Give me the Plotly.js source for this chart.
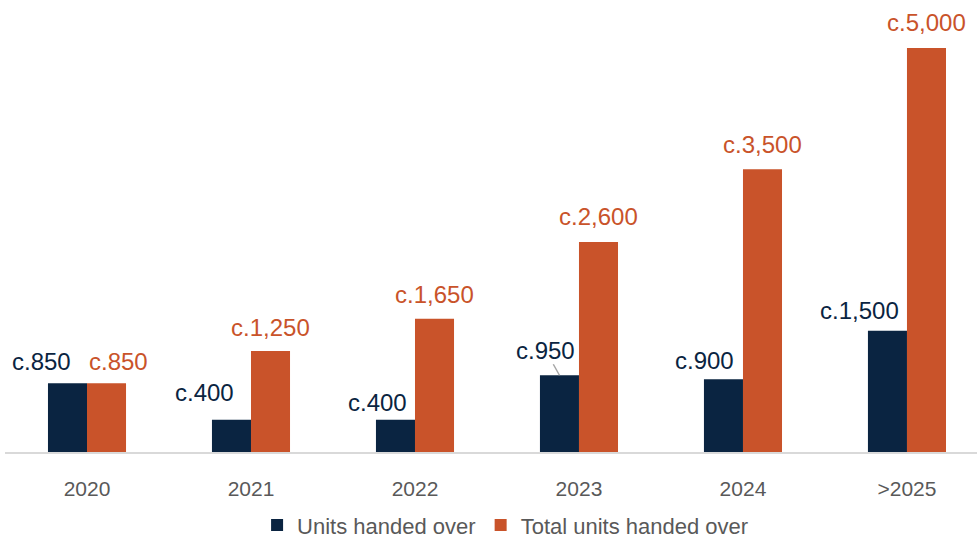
<!DOCTYPE html>
<html>
<head>
<meta charset="utf-8">
<script src="https://cdn.plot.ly/plotly-3.0.1.min.js"></script>
<style>html,body{margin:0;padding:0;background:#fff;}#chart{width:977px;height:548px;}</style>
</head>
<body>
<div id="chart"></div>
<script>
// ---- data ----
const categories = ["2020", "2021", "2022", "2023", "2024", ">2025"];
const unitsHandedOver = [850, 400, 400, 950, 900, 1500];
const totalUnitsHandedOver = [850, 1250, 1650, 2600, 3500, 5000];
const seriesNames = ["Units handed over", "Total units handed over"];

// ---- label nudges (pixels) ----
const navyShiftX = [-26, -27, -18, -14, -19, -28];
const navyShiftY = [22, 27, 17, 25, 19, 20];
const orangeShiftX = [12, 0, 0, 0, 0, 0];
const orangeShiftY = [22, 24, 24, 25, 25, 26];
const leaderLine = [false, false, false, true, false, false];

const NAVY = "#0a2441";
const ORANGE = "#c9532a";
const GRAY = "#595959";
const FONT = "'Liberation Sans', Arial, sans-serif";

const idx = categories.map((c, i) => i);
const bargap = 0.524;
const half = (1 - bargap) / 4; // half width of one bar, in axis units

function fmt(v) { return "c." + v.toLocaleString("en-US"); }

const traces = [
  { type: "bar", name: seriesNames[0], x: idx, y: unitsHandedOver,
    marker: { color: NAVY, line: { width: 0 } }, hoverinfo: "skip" },
  { type: "bar", name: seriesNames[1], x: idx, y: totalUnitsHandedOver,
    marker: { color: ORANGE, line: { width: 0 } }, hoverinfo: "skip" }
];

const annotations = [];
idx.forEach(i => {
  const v = unitsHandedOver[i];
  if (leaderLine[i]) {
    annotations.push({
      x: i - half, y: v, xref: "x", yref: "y", text: fmt(v),
      showarrow: true, arrowhead: 0, arrowwidth: 1.5, arrowcolor: "#a6a6a6",
      standoff: 0, ax: navyShiftX[i], ay: -navyShiftY[i], borderpad: 0,
      font: { family: FONT, size: 24, color: NAVY }
    });
  } else {
    annotations.push({
      x: i - half, y: v, xref: "x", yref: "y", text: fmt(v), showarrow: false,
      xshift: navyShiftX[i], yshift: navyShiftY[i], yanchor: "middle", xanchor: "center",
      font: { family: FONT, size: 24, color: NAVY }
    });
  }
  const t = totalUnitsHandedOver[i];
  annotations.push({
    x: i + half, y: t, xref: "x", yref: "y", text: fmt(t), showarrow: false,
    xshift: orangeShiftX[i], yshift: orangeShiftY[i], yanchor: "middle", xanchor: "center",
    font: { family: FONT, size: 24, color: ORANGE }
  });
});

const layout = {
  width: 977, height: 548,
  margin: { l: 5, r: 0, t: 20, b: 96 },
  paper_bgcolor: "#fff", plot_bgcolor: "#fff",
  barmode: "group", bargap: bargap, bargroupgap: 0,
  font: { family: FONT, color: GRAY },
  showlegend: true,
  legend: { orientation: "h", x: 0.515, xanchor: "center", y: -0.218, yanchor: "bottom",
            font: { family: FONT, size: 22, color: GRAY }, itemwidth: 30, traceorder: "normal" },
  xaxis: {
    range: [-0.5, 5.427], tickmode: "array", tickvals: idx, ticktext: categories,
    showgrid: false, zeroline: false, showline: true, linecolor: "#d9d9d9", linewidth: 2,
    ticks: "", ticklabelstandoff: 17, tickfont: { family: FONT, size: 21, color: GRAY }, fixedrange: true
  },
  yaxis: {
    range: [0, 5347], visible: false, showgrid: false, zeroline: false, fixedrange: true
  },
  annotations: annotations
};

Plotly.newPlot("chart", traces, layout, { staticPlot: true, displayModeBar: false });
</script>
</body>
</html>
